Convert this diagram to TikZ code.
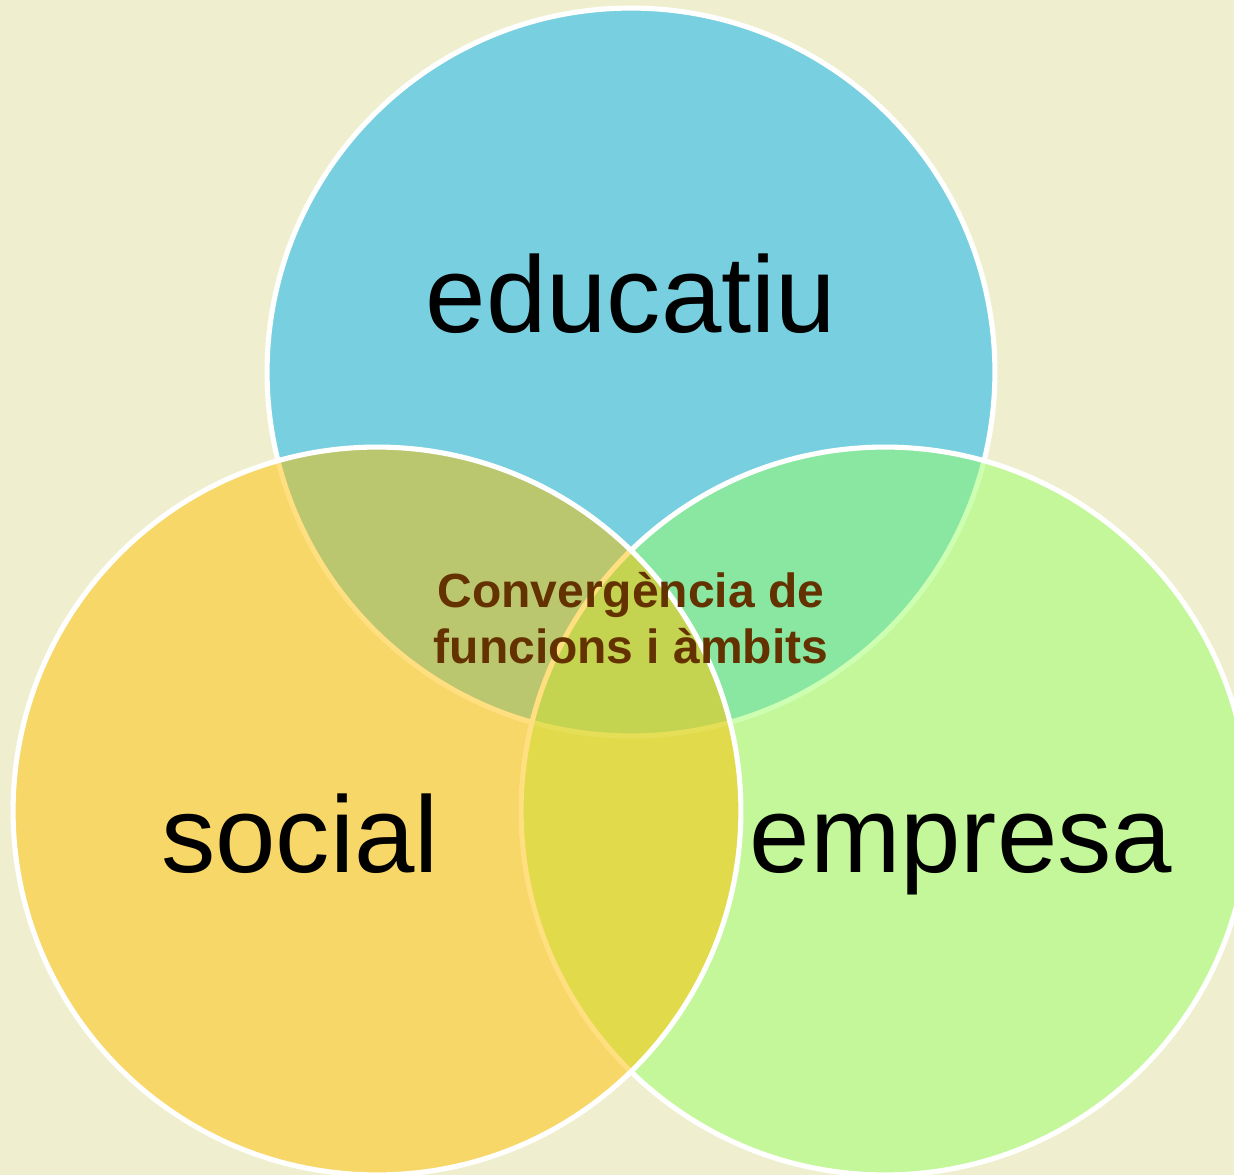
\documentclass[tikz,border=0pt]{standalone}
\usepackage{fontspec}
\setmainfont{Liberation Sans}
\usepackage{xcolor}
\usetikzlibrary{positioning}
\definecolor{fons}{RGB}{239,239,208}
\definecolor{blau}{RGB}{120,207,224}
\definecolor{verd}{RGB}{155,255,100}
\definecolor{groc}{RGB}{255,192,0}
\definecolor{marro}{RGB}{99,50,0}

\begin{document}
\begin{tikzpicture}[x=0.02cm,y=-0.02cm,
		ambit/.style={circle,draw=white,line width=2.9pt,minimum size=14.56cm,inner sep=0pt},
		nom/.style={anchor=base,font=\fontsize{61.8}{74}\selectfont},
		lema/.style={anchor=base,text=marro,font=\bfseries\fontsize{27.3}{33}\selectfont}]
		\useasboundingbox (0,0) rectangle (1234,1175);
		\clip (0,0) rectangle (1234,1175);
		\fill[fons] (0,0) rectangle (1234,1175);
		% els tres ambits
		\node[ambit,fill=blau] (educ) at (631,372) {};
		\node[ambit,fill=verd,fill opacity=0.5] (empr) at (885,811) {};
		\node[ambit,fill=groc,fill opacity=0.5] (soc) at (377,811) {};
		% noms
		\node[nom] (teduc) at (631,333) {educatiu};
		\node[nom] (tsoc) at (300,872) {social};
		\node[nom] (tempr) at (961,872) {empresa};
		% centre
		\node[lema] (conv) at (631,607) {Convergència de};
		\node[lema] (func) at (631,663) {funcions i àmbits};
	\end{tikzpicture}
\end{document}
